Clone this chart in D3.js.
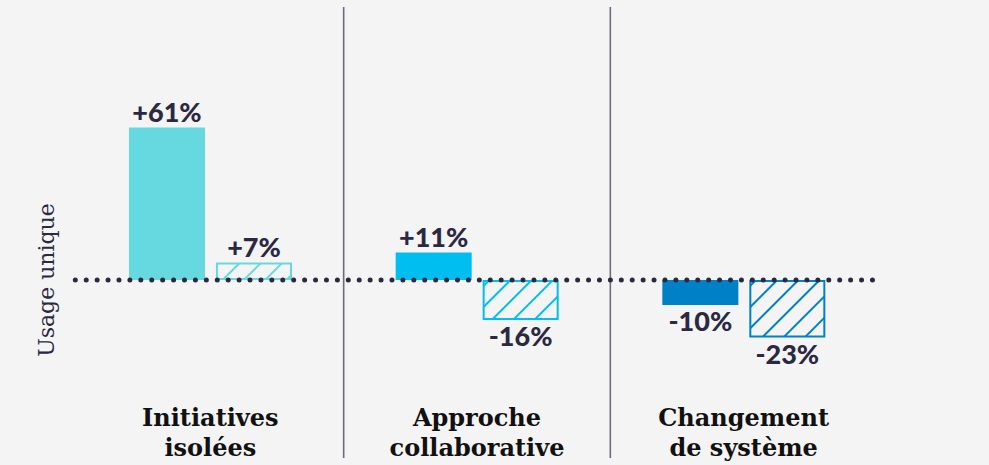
<!DOCTYPE html>
<html>
<head>
<meta charset="utf-8">
<script src="https://cdn.jsdelivr.net/npm/d3@7"></script>
<style>
  html, body { margin: 0; padding: 0; background: #f4f4f4; }
  svg { display: block; }
</style>
</head>
<body>
<svg id="chart" width="989" height="465"></svg>
<script>
// ---- data ----
const categories = ["Initiatives isolées", "Approche collaborative", "Changement de système"];
const categoryLines = [["Initiatives", "isolées"], ["Approche", "collaborative"], ["Changement", "de système"]];
const solidValues = [61, 11, -10];
const hatchedValues = [7, -16, -23];
const groupColors = ["#66d9e0", "#00bff0", "#0080c6"];
const axisLabel = "Usage unique";

// ---- layout ----
const W = 989, H = 465;
const svg = d3.select("#chart");
svg.append("rect").attr("width", W).attr("height", H).attr("fill", "#f4f4f4");

const x = d3.scaleBand().domain(categories).range([77, 877]);
const inner = d3.scaleBand().domain(["solid", "hatched"]).range([52, 215]).paddingInner(0.126);
const y = d3.scaleLinear().domain([-40, 70]).range([380, 105]);

const defs = svg.append("defs");
groupColors.forEach((c, i) => {
  const p = defs.append("pattern")
    .attr("id", "hatch" + i)
    .attr("patternUnits", "userSpaceOnUse")
    .attr("width", 15).attr("height", 15)
    .attr("patternTransform", "rotate(45)");
  p.append("rect").attr("width", 15).attr("height", 15).attr("fill", "#f4f4f4");
  p.append("line").attr("x1", 1).attr("y1", 0).attr("x2", 1).attr("y2", 15)
    .attr("stroke", c).attr("stroke-width", 2);
});

const rows = categories.map((cat, i) => ({ cat, i, solid: solidValues[i], hatched: hatchedValues[i], color: groupColors[i] }));

// separators
[1, 2].forEach(k => {
  const sx = x(categories[k]);
  svg.append("line")
    .attr("x1", sx).attr("x2", sx).attr("y1", 7).attr("y2", 458)
    .attr("stroke", "#6e6b7d").attr("stroke-width", 1.6);
});

const g = svg.selectAll("g.grp").data(rows).join("g")
  .attr("class", "grp")
  .attr("transform", d => `translate(${x(d.cat)},0)`);

// solid bars
g.append("rect")
  .attr("x", inner("solid"))
  .attr("width", inner.bandwidth())
  .attr("y", d => y(Math.max(0, d.solid)))
  .attr("height", d => Math.abs(y(d.solid) - y(0)))
  .attr("fill", d => d.color);

// hatched bars
g.append("rect")
  .attr("x", inner("hatched") + 1)
  .attr("width", inner.bandwidth() - 2)
  .attr("y", d => y(Math.max(0, d.hatched)) + 1)
  .attr("height", d => Math.abs(y(d.hatched) - y(0)) - 2)
  .attr("fill", d => `url(#hatch${d.i})`)
  .attr("stroke", d => d.color)
  .attr("stroke-width", 2);

// value labels
const fmt = v => (v > 0 ? "+" : "") + v + "%";
const labelStyle = sel => sel
  .attr("text-anchor", "middle")
  .attr("font-family", "Lato, 'Open Sans', sans-serif")
  .attr("font-weight", 900)
  .attr("font-size", 27)
  .attr("fill", "#2b2942");

["solid", "hatched"].forEach(key => {
  g.append("text")
    .call(labelStyle)
    .attr("x", inner(key) + inner.bandwidth() / 2)
    .attr("y", d => d[key] >= 0 ? y(d[key]) - 6 : y(d[key]) + 26)
    .text(d => fmt(d[key]));
});

// dotted zero line (drawn over bars)
svg.append("line")
  .attr("x1", 75.3).attr("x2", 873).attr("y1", y(0)).attr("y2", y(0))
  .attr("stroke", "#2b2942").attr("stroke-width", 5)
  .attr("stroke-linecap", "round")
  .attr("stroke-dasharray", "0 10.92");

// category labels
g.each(function(d) {
  const t = d3.select(this).append("text")
    .attr("text-anchor", "middle")
    .attr("font-family", "'DejaVu Serif', serif")
    .attr("font-weight", 600)
    .attr("font-size", 24)
    .attr("fill", "#111111");
  categoryLines[d.i].forEach((line, k) => {
    t.append("tspan").attr("x", x.bandwidth() / 2).attr("y", 426 + k * 30).text(line);
  });
});

// axis label
svg.append("text")
  .attr("transform", `translate(54, ${y(0)}) rotate(-90)`)
  .attr("text-anchor", "middle")
  .attr("font-family", "'DejaVu Serif', serif")
  .attr("font-size", 22)
  .attr("fill", "#2b2942")
  .text(axisLabel);
</script>
</body>
</html>
